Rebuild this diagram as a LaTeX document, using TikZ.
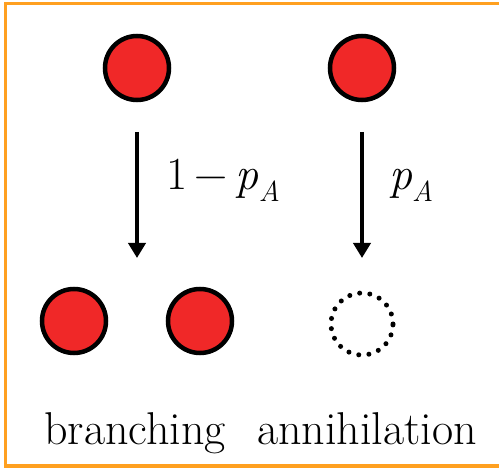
\documentclass[tikz,border=0pt]{standalone}
\usetikzlibrary{arrows.meta,calc}
\definecolor{frameorange}{HTML}{FFA020}
\definecolor{ballred}{HTML}{F02828}

\begin{document}
\begin{tikzpicture}[x=1pt,y=-1pt,
  ball/.style={circle,draw=black,fill=ballred,line width=4.5pt,minimum size=64pt,inner sep=0pt},
  void/.style={circle,draw=black,line width=5pt,dash pattern=on 0pt off 10.2pt,line cap=round,minimum size=62pt,inner sep=0pt},
  flow/.style={-{Triangle[length=15pt,width=17pt]},line width=4pt},
  word/.style={font=\fontsize{46}{46}\selectfont,inner sep=0pt}]
\useasboundingbox (0,0) rectangle (499,468);
\clip (0,0) rectangle (499,468);
\draw[frameorange,line width=3pt] (510,4) -| (5,466) -- (510,466);
% particles
\node[ball] (top1) at (137,68) {};
\node[ball] (top2) at (362,68) {};
\node[ball] (kid1) at (74,321) {};
\node[ball] (kid2) at (200,321) {};
\node[void] (gone) at (362,324) {};
\coordinate (kids) at ($(kid1)!0.5!(kid2)$);
% transitions
\draw[flow,shorten <=64pt,shorten >=63pt] (top1.center) -- (kids);
\draw[flow,shorten <=64pt,shorten >=66pt] (top2.center) -- (gone.center);
\node[word,anchor=base west] (pbranch) at (166,190) {1\,−\,\textit{p}\raisebox{-12pt}{\fontsize{29}{29}\selectfont\textit{A}}};
\node[word,anchor=base west] (pannih) at (389,190) {\textit{p}\raisebox{-12pt}{\fontsize{29}{29}\selectfont\textit{A}}};
% names
\node[word,anchor=base] (branch) at (135,445) {branching};
\node[word,anchor=base] (annih) at (367,445) {annihilation};
\end{tikzpicture}
\end{document}
